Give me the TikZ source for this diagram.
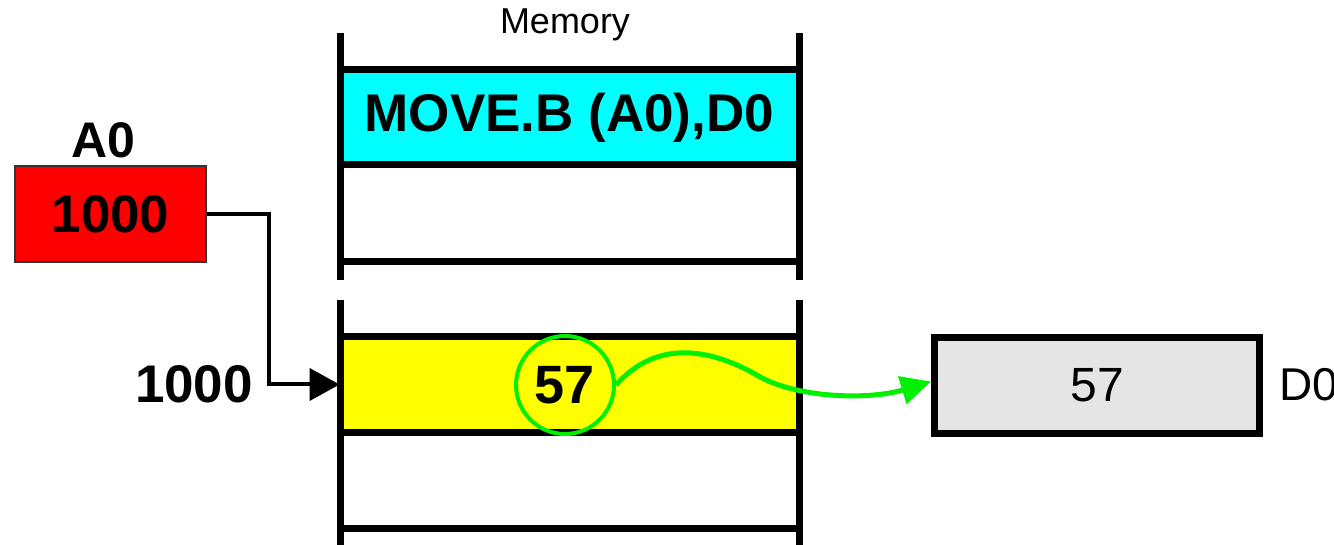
\documentclass[tikz,border=0pt]{standalone}
\usepackage{fontspec}
\setmainfont{Liberation Sans}
\usetikzlibrary{arrows.meta}
\definecolor{cellcyan}{RGB}{0,255,255}
\definecolor{cellyellow}{RGB}{255,255,0}
\definecolor{regred}{RGB}{255,0,0}
\definecolor{hlgreen}{RGB}{0,240,0}
\definecolor{reggray}{RGB}{229,229,229}
\begin{document}
\begin{tikzpicture}[x=0.5pt,y=-0.5pt,
  memline/.style={line width=3.5pt},
  cell/.style={rectangle, inner sep=0pt, minimum width=229.5pt, minimum height=47.5pt},
  bigbold/.style={font=\fontsize{26.5}{30}\selectfont\bfseries},
  conn/.style={line width=2pt, -{Triangle[length=15pt,width=16pt]}},
  greenconn/.style={draw=hlgreen, line width=2.5pt, -{Triangle[length=15pt,width=14pt]}},
  plain/.style={inner sep=0pt}]
\useasboundingbox (0,0) rectangle (1334,545);

% memory cells
\node[cell, fill=cellcyan, bigbold] (instr) at (569.5,117.5) {MOVE.B (A0),D0};
\node[cell] (empty1) at (569.5,213.5) {};
\node[cell, fill=cellyellow] (data) at (569.5,384.5) {};
\node[cell] (empty2) at (569.5,480) {};

% memory lines
\draw[memline] (340,33) -- (340,280);
\draw[memline] (799,33) -- (799,280);
\draw[memline] (340,300) -- (340,545);
\draw[memline] (799,300) -- (799,545);
\foreach \yy in {70,165,262,337,432,528}
  \draw[memline] (340,\yy) -- (799,\yy);

\node[plain, font=\fontsize{18}{21}\selectfont] (memlbl) at (565,25) {Memory};

% A0 register
\node[rectangle, draw=black!80, line width=0.6pt, fill=regred, minimum width=95.5pt,
      minimum height=48pt, inner sep=0pt, bigbold] (a0) at (110.5,214) {1000};
\node[plain, font=\fontsize{25}{28}\selectfont\bfseries] (a0lbl) at (103,140) {A0};

% address label
\node[plain, bigbold] (addr) at (194,384) {1000};

% circled value
\node[circle, draw=hlgreen, line width=2pt, minimum size=49pt, inner sep=0pt,
      font=\fontsize{27}{30}\selectfont\bfseries] (c57) at (565,385) {57};

% D0 register
\node[rectangle, draw=black, line width=3.5pt, fill=reggray, minimum width=162.5pt,
      minimum height=48pt, inner sep=0pt, font=\fontsize{24}{27}\selectfont] (d0) at (1097,385.5) {57};
\node[plain, anchor=west, font=\fontsize{23}{26}\selectfont] (d0lbl) at (1279,385) {D0};

% connectors
\draw[conn] (a0.east) -- ++(62,0) |- (data.west);
\draw[greenconn] (c57.east) .. controls (645,352) and (690,338) .. (755,374)
   .. controls (795,399) and (870,400) .. ([yshift=2pt]d0.west);
\end{tikzpicture}
\end{document}
